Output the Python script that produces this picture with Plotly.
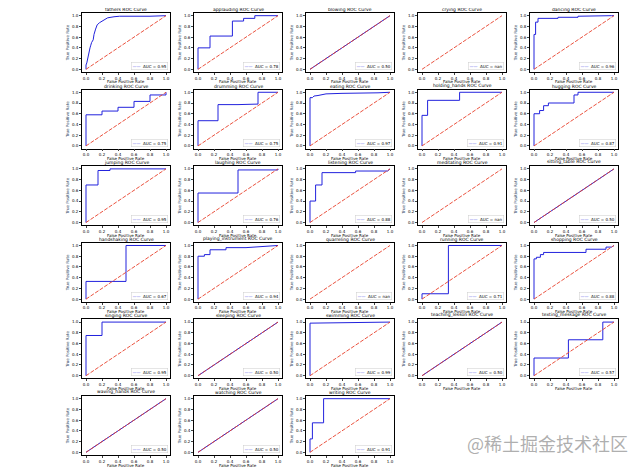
import plotly.graph_objects as go
from plotly.subplots import make_subplots

class_names = [
    "fathers", "applauding", "blowing", "crying", "dancing",
    "drinking", "drumming", "eating", "holding_hands", "hugging",
    "jumping", "laughing", "listening", "meditating", "sitting_table",
    "handshaking", "playing_instrument", "quarreling", "running", "shopping",
    "singing", "sleeping", "swimming", "teaching_lesson", "texting_message",
    "waving_hands", "watching", "writing",
]

auc_labels = [
    "0.95", "0.78", "0.50", "nan", "0.96",
    "0.75", "0.75", "0.97", "0.91", "0.87",
    "0.95", "0.76", "0.88", "nan", "0.50",
    "0.67", "0.94", "nan", "0.71", "0.88",
    "0.95", "0.50", "0.99", "0.50", "0.57",
    "0.50", "0.50", "0.91",
]

fpr_list = [
    [0, 0, 0.01, 0.02, 0.03, 0.05, 0.06, 0.07, 0.09, 0.10, 0.12, 0.14, 0.17, 0.20, 0.24, 0.27, 0.35, 0.42, 0.80, 1.0],
    [0, 0, 0.15, 0.15, 0.43, 0.43, 0.57, 0.57, 0.71, 0.71, 1.0],
    [0, 1.0],
    [],
    [0, 0, 0.02, 0.02, 0.05, 0.05, 0.30, 0.30, 0.55, 0.55, 0.97, 1.0],
    [0, 0, 0.2, 0.2, 0.4, 0.4, 0.6, 0.6, 0.8, 0.8, 1.0, 1.0],
    [0, 0, 0.25, 0.25, 0.5, 0.75, 0.75, 1.0],
    [0, 0, 0.03, 0.05, 0.10, 0.15, 0.20, 0.40, 0.60, 0.85, 1.0],
    [0, 0, 0.07, 0.07, 0.47, 0.47, 1.0],
    [0, 0, 0.07, 0.07, 0.12, 0.12, 0.18, 0.18, 0.50, 0.50, 0.55, 0.55, 1.0],
    [0, 0, 0.15, 0.15, 0.30, 0.30, 1.0],
    [0, 0, 0.5, 0.5, 1.0, 1.0],
    [0, 0, 0.07, 0.07, 0.15, 0.15, 0.57, 0.57, 0.97, 1.0],
    [],
    [0, 1.0],
    [0, 0, 0.5, 0.5, 1.0],
    [0, 0, 0.08, 0.08, 0.15, 0.15, 0.35, 0.35, 0.60, 0.80, 1.0],
    [],
    [0, 0, 0.33, 0.33, 1.0],
    [0, 0, 0.03, 0.03, 0.08, 0.08, 0.12, 0.12, 0.65, 0.65, 0.90, 0.90, 0.97, 1.0],
    [0, 0, 0.2, 0.2, 1.0],
    [0, 1.0],
    [0, 0, 0.5, 1.0],
    [0, 1.0],
    [0, 0, 0.43, 0.43, 0.86, 0.86, 1.0],
    [0, 1.0],
    [0, 1.0],
    [0, 0, 0.03, 0.03, 0.17, 0.17, 1.0],
]

tpr_list = [
    [0, 0.08, 0.12, 0.20, 0.30, 0.40, 0.45, 0.50, 0.55, 0.65, 0.75, 0.83, 0.87, 0.90, 0.93, 0.96, 0.98, 0.99, 0.99, 1.0],
    [0, 0.40, 0.40, 0.62, 0.62, 0.90, 0.90, 0.95, 0.95, 1.0, 1.0],
    [0, 1.0],
    [],
    [0, 0.65, 0.65, 0.88, 0.88, 0.95, 0.95, 0.97, 0.97, 0.99, 1.0, 1.0],
    [0, 0.58, 0.58, 0.65, 0.65, 0.72, 0.72, 0.83, 0.83, 0.95, 0.95, 1.0],
    [0, 0.47, 0.47, 0.77, 0.77, 0.78, 1.0, 1.0],
    [0, 0.90, 0.90, 0.93, 0.94, 0.96, 0.97, 0.98, 0.98, 0.99, 1.0],
    [0, 0.57, 0.57, 0.85, 0.85, 1.0, 1.0],
    [0, 0.60, 0.60, 0.66, 0.66, 0.75, 0.75, 0.80, 0.80, 0.95, 0.95, 1.0, 1.0],
    [0, 0.70, 0.70, 0.97, 0.97, 1.0, 1.0],
    [0, 0.55, 0.55, 0.98, 0.98, 1.0],
    [0, 0.40, 0.40, 0.70, 0.70, 0.93, 0.93, 0.96, 0.96, 1.0],
    [],
    [0, 1.0],
    [0, 0.33, 0.33, 1.0, 1.0],
    [0, 0.80, 0.80, 0.83, 0.83, 0.92, 0.92, 0.96, 0.96, 0.98, 1.0],
    [],
    [0, 0.10, 0.10, 1.0, 1.0],
    [0, 0.75, 0.75, 0.78, 0.78, 0.83, 0.83, 0.87, 0.87, 0.93, 0.93, 0.97, 0.97, 1.0],
    [0, 0.75, 0.75, 1.0, 1.0],
    [0, 1.0],
    [0, 0.98, 0.99, 1.0],
    [0, 1.0],
    [0, 0.33, 0.33, 0.67, 0.67, 1.0, 1.0],
    [0, 1.0],
    [0, 1.0],
    [0, 0.25, 0.25, 0.55, 0.55, 1.0, 1.0],
]

tick_vals = [0.0, 0.2, 0.4, 0.6, 0.8, 1.0]
tick_text = ["0.0", "0.2", "0.4", "0.6", "0.8", "1.0"]

# The page body adds an 8px offset, so the figure itself is 8px smaller
OFF = 8
W, H = 640 - OFF, 469 - OFF
NROWS, NCOLS = 6, 5
col_left0, col_pitch, ax_w = 82 - OFF, 112, 88
row_top0, ax_h = 13 - OFF, 59
row_pitch = (455 - ax_h - 13) / (NROWS - 1)

BLUE = "#2222dd"
RED = "#e8402a"
FONT = "DejaVu Sans"

fig = make_subplots(rows=NROWS, cols=NCOLS)

annotations = []
for i, name in enumerate(class_names):
    r, c = divmod(i, NCOLS)
    left = col_left0 + col_pitch * c
    top = row_top0 + row_pitch * r
    xd = [left / W, (left + ax_w) / W]
    yd = [1 - (top + ax_h) / H, 1 - top / H]
    if fpr_list[i]:
        fig.add_trace(go.Scatter(x=fpr_list[i], y=tpr_list[i], mode="lines",
                                 line=dict(color=BLUE, width=1),
                                 showlegend=False), row=r + 1, col=c + 1)
    fig.add_trace(go.Scatter(x=[0, 1], y=[0, 1], mode="lines",
                             line=dict(color=RED, width=0.9, dash="4px,1.5px"),
                             showlegend=False, hoverinfo="skip"), row=r + 1, col=c + 1)
    idx = i + 1
    xa = "xaxis" if idx == 1 else f"xaxis{idx}"
    ya = "yaxis" if idx == 1 else f"yaxis{idx}"
    axcommon = dict(range=[-0.05, 1.05], showline=True, linecolor="black", linewidth=0.6,
                    mirror=True, ticks="outside", ticklen=2, tickwidth=0.5,
                    tickvals=tick_vals, ticktext=tick_text, showgrid=False, zeroline=False,
                    tickfont=dict(size=4, color="black", family=FONT))
    fig.layout[xa].update(domain=xd, **axcommon)
    fig.layout[ya].update(domain=yd, **axcommon,
                          title=dict(text="True Positive Rate", font=dict(size=4, family=FONT), standoff=2))
    # x axis title, placed just under the tick labels
    annotations.append(dict(text="False Positive Rate", x=(xd[0] + xd[1]) / 2,
                            y=yd[0] - 6.5 / H, xref="paper", yref="paper",
                            xanchor="center", yanchor="top", showarrow=False, borderpad=0,
                            font=dict(size=4, color="black", family=FONT)))
    annotations.append(dict(text=f"{name} ROC Curve", x=(xd[0] + xd[1]) / 2, y=yd[1],
                            xref="paper", yref="paper", xanchor="center", yanchor="bottom",
                            showarrow=False, borderpad=0,
                            font=dict(size=4.5, color="black", family=FONT)))
    annotations.append(dict(text=f"<span style='color:{BLUE}'>——</span>  AUC = {auc_labels[i]}",
                            x=xd[1] - 2 / W, y=yd[0] + 2 / H, xref="paper", yref="paper",
                            xanchor="right", yanchor="bottom", showarrow=False,
                            bordercolor="#cccccc", borderwidth=0.5, borderpad=1, bgcolor="white",
                            font=dict(size=4, color="black", family=FONT)))

# hide unused subplot slots
for idx in range(len(class_names) + 1, NROWS * NCOLS + 1):
    fig.layout[f"xaxis{idx}"].update(visible=False, domain=[0.99, 1.0])
    fig.layout[f"yaxis{idx}"].update(visible=False, domain=[0.0, 0.01])

annotations.append(dict(text="@稀土掘金技术社区", x=(630 - OFF) / W, y=(469 - 458) / H,
                        xref="paper", yref="paper",
                        xanchor="right", yanchor="bottom", showarrow=False,
                        font=dict(size=18, color="rgba(140,140,140,0.7)", family="Noto Sans CJK SC")))

fig.update_layout(width=W, height=H, margin=dict(l=0, r=0, t=0, b=0),
                  paper_bgcolor="white", plot_bgcolor="white",
                  showlegend=False, annotations=annotations)

fig.write_html("out.html")
